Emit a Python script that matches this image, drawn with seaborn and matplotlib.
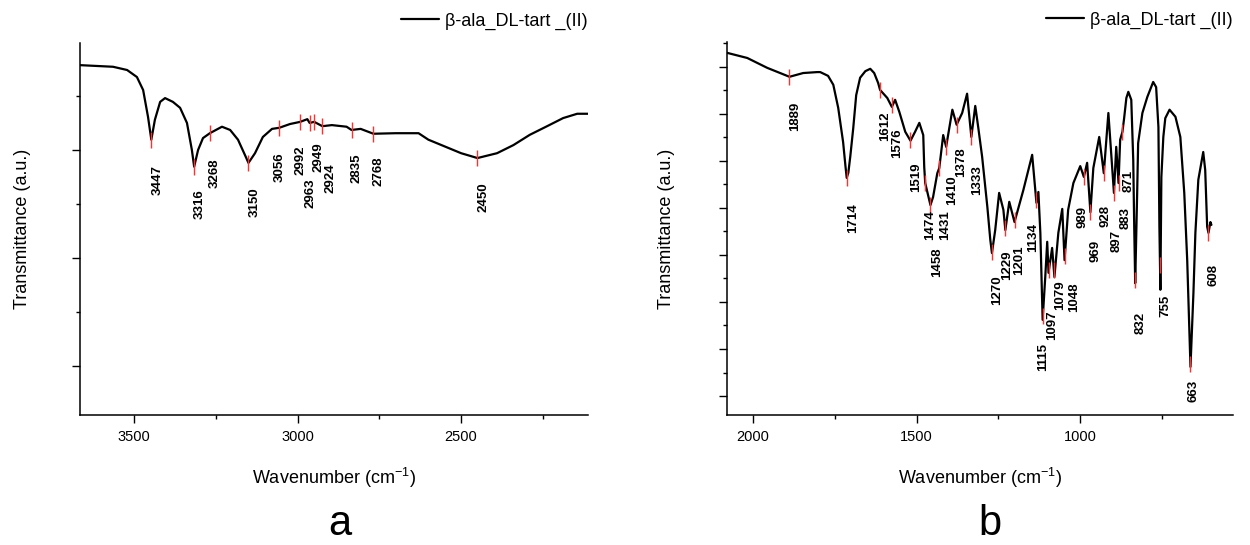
import matplotlib
matplotlib.use('Agg')
import matplotlib.pyplot as plt
from matplotlib.ticker import FixedLocator, NullFormatter
import seaborn as sns

# ---- panel a : 3665 - 2112 cm-1 ----
wn_a = [3665, 3564, 3521, 3491, 3472, 3457, 3447, 3436, 3420, 3405,
        3381, 3359, 3338, 3323, 3316, 3304, 3289, 3268, 3231, 3206,
        3182, 3161, 3150, 3130, 3106, 3078, 3056, 3023, 2992, 2970,
        2963, 2949, 2924, 2895, 2850, 2835, 2807, 2768, 2700, 2630,
        2600, 2548, 2500, 2450, 2390, 2340, 2290, 2237, 2188, 2145, 2112]
tr_a = [65.7, 65.4, 64.8, 63.5, 61.1, 56.1, 51.9, 55.6, 58.9, 59.6,
        58.9, 57.8, 55.0, 50.0, 46.9, 50.0, 52.2, 53.1, 54.3, 53.7,
        51.9, 49.1, 47.6, 49.4, 52.4, 53.9, 54.1, 54.8, 55.2, 55.7,
        55.0, 55.2, 54.4, 54.6, 54.3, 53.7, 53.9, 53.0, 53.1, 53.1,
        51.9, 50.6, 49.4, 48.5, 49.4, 50.9, 52.8, 54.4, 55.9, 56.7, 56.7]

peaks_a = [3447, 3316, 3268, 3150, 3056, 2992, 2963, 2949, 2924, 2835, 2768, 2450]
peak_tr_a = [51.9, 46.9, 53.1, 47.6, 54.1, 55.2, 55.0, 55.2, 54.4, 53.7, 53.0, 48.5]
# label offsets (pixels): sideways shift and drop below the mark
dx_a = [6, 5, 5, 6, 0, 0, 1, 4, 8, 5, 5, 6]
drop_a = [25, 23, 25, 24, 25, 24, 55, 21, 37, 24, 23, 24]

# ---- panel b : 2080 - 533 cm-1 ----
wn_b = [2080, 2018, 1957, 1889, 1847, 1804, 1795, 1771, 1755, 1740,
        1725, 1718, 1714, 1709, 1703, 1694, 1685, 1673, 1657, 1642,
        1630, 1618, 1612, 1590, 1576, 1566, 1553, 1535, 1519, 1505,
        1492, 1480, 1477, 1474, 1458, 1450, 1437, 1431, 1419, 1410,
        1391, 1378, 1361, 1346, 1333, 1321, 1312, 1300, 1284, 1275,
        1270, 1260, 1248, 1235, 1229, 1217, 1201, 1174, 1147, 1134,
        1128, 1122, 1115, 1107, 1101, 1097, 1086, 1079, 1067, 1055,
        1048, 1037, 1021, 1000, 989, 979, 969, 960, 942, 928,
        914, 897, 890, 883, 878, 871, 866, 859, 853, 844,
        838, 835, 832, 826, 823, 810, 795, 777, 768, 761,
        758, 755, 752, 746, 740, 727, 709, 694, 682, 673,
        663, 654, 648, 639, 624, 618, 612, 608, 602, 599]
tr_b = [73.0, 71.9, 69.8, 67.9, 68.7, 68.9, 68.9, 68.1, 66.2, 61.3,
        54.0, 49.0, 46.4, 47.5, 51.0, 57.0, 64.0, 67.7, 69.1, 69.6,
        68.7, 66.6, 65.1, 63.4, 61.5, 63.0, 60.4, 56.2, 54.3, 56.2,
        58.1, 55.5, 48.7, 45.3, 40.6, 42.3, 47.4, 48.5, 55.5, 53.0,
        60.9, 57.7, 60.2, 64.3, 55.1, 61.7, 57.2, 50.9, 40.2, 33.2,
        30.4, 35.3, 43.2, 39.6, 35.3, 41.3, 37.0, 43.8, 51.3, 41.1,
        43.4, 34.7, 16.2, 25.3, 32.8, 26.2, 31.5, 25.3, 34.7, 39.8,
        28.9, 39.6, 45.3, 48.9, 46.6, 49.6, 39.1, 48.5, 55.1, 47.4,
        60.2, 43.2, 53.0, 45.3, 54.5, 56.2, 59.0, 63.4, 64.7, 63.0,
        50.2, 36.0, 24.0, 43.2, 53.8, 60.2, 63.6, 66.8, 65.7, 57.2,
        36.0, 22.6, 46.6, 55.1, 59.1, 60.9, 59.4, 55.1, 43.2, 28.9,
        6.2, 21.9, 34.7, 46.0, 51.9, 48.1, 36.0, 34.7, 37.0, 36.4]

peaks_b = [1889, 1714, 1612, 1576, 1519, 1474, 1458, 1431, 1410, 1378,
           1333, 1270, 1229, 1201, 1134, 1115, 1097, 1079, 1048, 989,
           969, 928, 897, 883, 871, 832, 755, 663, 608]
peak_tr_b = [67.9, 46.4, 65.1, 61.9, 54.5, 45.3, 40.6, 48.5, 53.0, 57.7,
             55.1, 30.6, 35.7, 37.4, 41.7, 17.0, 26.8, 26.8, 29.8, 46.6,
             39.1, 47.4, 43.2, 45.3, 56.2, 24.7, 27.9, 6.8, 34.7]
dx_b = [6, 6, 5, 5, 6, 5, 7, 6, 6, 5, 6, 5, 2, 5, -3, 0, 4, 6, 10, -1,
        5, 2, 3, 7, 6, 5, 5, 3, 5]
drop_b = [25, 25, 22, 23, 23, 27, 42, 42, 29, 23, 28, 23, 22, 25, 23, 27, 40, 10, 27, 29,
          28, 32, 37, 24, 38, 32, 30, 16, 31]

sample = 'β-ala_DL-tart _(II)'

sns.set_style('ticks')
plt.rcParams['font.family'] = ['Liberation Sans', 'DejaVu Sans']
plt.rcParams['mathtext.default'] = 'regular'
for k in ['text.color', 'axes.labelcolor', 'xtick.color', 'ytick.color', 'axes.edgecolor']:
    plt.rcParams[k] = 'black'

fig = plt.figure(figsize=(12.5, 5.45), dpi=100)
W, H = 1250, 545


def panel(rect, wn, tr, peaks, peak_tr, dx, drop, xlim, ylim,
          xmaj, xmin, ymaj, ymin, ylab_x):
    ax = fig.add_axes(rect)
    sns.lineplot(x=wn, y=tr, ax=ax, color='black', linewidth=1.6,
                 sort=False, estimator=None, label=sample)
    sns.scatterplot(x=peaks, y=peak_tr, ax=ax, marker='|', s=135,
                    color='#ff3030', linewidth=1.0, zorder=3, legend=False)
    for p, t, ddx, dd in zip(peaks, peak_tr, dx, drop):
        ax.annotate(str(p), xy=(p, t), xytext=(ddx, -dd),
                    textcoords='offset pixels', rotation=90,
                    ha='center', va='top', fontsize=9.5, fontweight='bold')
    ax.set_xlim(*xlim)
    ax.set_ylim(*ylim)
    ax.xaxis.set_major_locator(FixedLocator(xmaj))
    ax.xaxis.set_minor_locator(FixedLocator(xmin))
    ax.yaxis.set_major_locator(FixedLocator(ymaj))
    ax.yaxis.set_minor_locator(FixedLocator(ymin))
    ax.yaxis.set_major_formatter(NullFormatter())
    ax.tick_params(which='major', direction='out', length=5.8, width=1,
                   labelsize=10.5, pad=5)
    ax.tick_params(which='minor', direction='out', length=3, width=1)
    sns.despine(ax=ax)
    for s in ['left', 'bottom']:
        ax.spines[s].set_linewidth(1.1)
    ax.set_xlabel('Wavenumber (cm$^{-1}$)', fontsize=13)
    ax.set_ylabel('Transmittance (a.u.)', fontsize=13)
    ax.xaxis.set_label_coords(0.5, -0.17)
    ax.xaxis.label.set_va('center')
    ax.yaxis.set_label_coords(ylab_x, 0.5)
    ax.yaxis.label.set_va('center')
    ax.legend(loc='lower right', bbox_to_anchor=(1.0, 1.035), frameon=False,
              fontsize=13, handlelength=2.1, handletextpad=0.35,
              borderpad=0, borderaxespad=0)
    return ax


panel([80 / W, 130 / H, 508 / W, 372 / H], wn_a, tr_a, peaks_a, peak_tr_a,
      dx_a, drop_a, (3665, 2112), (0.93, 69.8),
      [3500, 3000, 2500], [3250, 2750, 2250], [10, 30, 50], [20, 40, 60],
      -0.114)

panel([727 / W, 130 / H, 506 / W, 373 / H], wn_b, tr_b, peaks_b, peak_tr_b,
      dx_b, drop_b, (2080, 533), (-4.04, 75.3),
      [2000, 1500, 1000], [1750, 1250, 750],
      [0, 10, 20, 30, 40, 50, 60, 70], [5, 15, 25, 35, 45, 55, 65, 75],
      -0.119)

fig.text(340 / W, 1 - 535 / H, 'a', fontsize=30, ha='center', va='baseline')
fig.text(990 / W, 1 - 535 / H, 'b', fontsize=30, ha='center', va='baseline')

fig.savefig('out.png', dpi=100, facecolor='white')
